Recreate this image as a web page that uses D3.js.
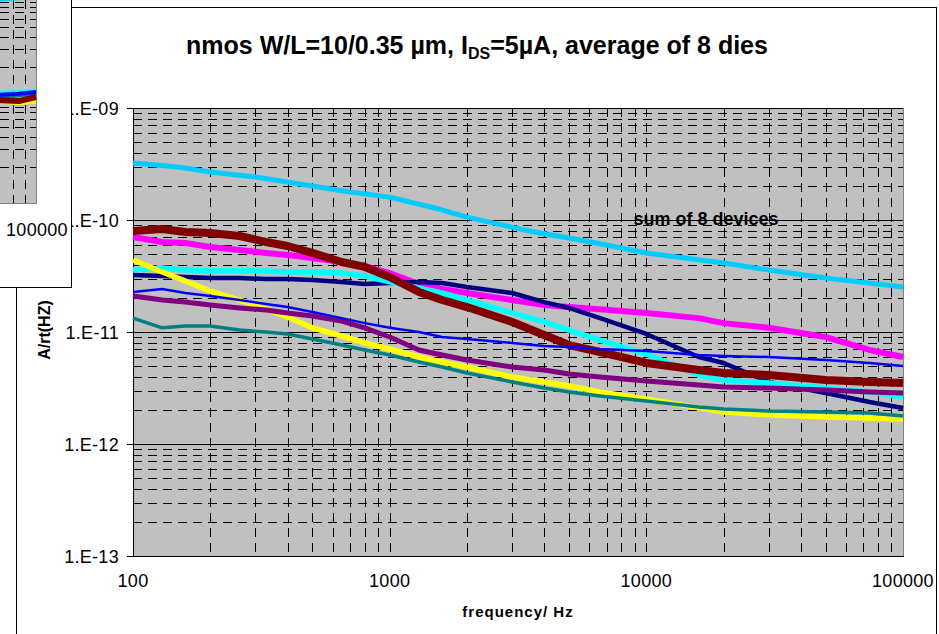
<!DOCTYPE html>
<html>
<head>
<meta charset="utf-8">
<script src="https://cdn.jsdelivr.net/npm/d3@7"></script>
<style>
body { margin: 0; background: #fff; }
svg { display: block; font-family: "Liberation Sans", Arial, sans-serif; }
</style>
</head>
<body>
<div id="chart"></div>
<script>
var width = 939,
    height = 634;

// readings, A/rt(Hz) vs Hz
var freqs = [100, 130, 160, 200, 260, 330, 400, 500, 650, 800, 1000, 1300, 1600, 2000,
    3000, 4000, 5000, 6600, 10000, 16000, 20000, 30000, 50000, 74000, 100000];

var darkRed = [7.98e-11, 8.31e-11, 7.81e-11, 7.65e-11, 7.20e-11, 6.36e-11, 5.86e-11, 5.08e-11,
    4.22e-11, 3.81e-11, 3.10e-11, 2.28e-11, 1.93e-11, 1.67e-11, 1.23e-11, 9.40e-12, 7.65e-12,
    6.63e-12, 5.29e-12, 4.58e-12, 4.31e-12, 4.13e-12, 3.73e-12, 3.58e-12, 3.50e-12];
var magenta = [7.05e-11, 6.36e-11, 6.23e-11, 5.74e-11, 5.40e-11, 5.08e-11, 4.87e-11, 4.58e-11,
    4.22e-11, 3.88e-11, 3.36e-11, 2.68e-11, 2.42e-11, 2.23e-11, 1.93e-11, 1.74e-11, 1.67e-11,
    1.60e-11, 1.48e-11, 1.33e-11, 1.20e-11, 1.09e-11, 9.02e-12, 6.91e-12, 5.98e-12];
var cyan = [3.58e-11, 3.73e-11, 3.58e-11, 3.50e-11, 3.50e-11, 3.50e-11, 3.43e-11, 3.43e-11,
    3.36e-11, 3.16e-11, 2.80e-11, 2.47e-11, 2.23e-11, 1.93e-11, 1.48e-11, 1.23e-11, 1.04e-11,
    8.48e-12, 6.36e-12, 4.13e-12, 3.73e-12, 3.50e-12, 3.16e-12, 2.91e-12, 2.63e-12];
var navy = [3.23e-11, 3.16e-11, 3.10e-11, 3.03e-11, 3.03e-11, 2.97e-11, 2.97e-11, 2.91e-11,
    2.80e-11, 2.68e-11, 2.74e-11, 2.80e-11, 2.74e-11, 2.52e-11, 2.23e-11, 1.85e-11, 1.64e-11,
    1.33e-11, 9.60e-12, 5.98e-12, 5.29e-12, 3.58e-12, 2.85e-12, 2.37e-12, 2.10e-12];
var yellow = [4.39e-11, 3.43e-11, 2.85e-11, 2.32e-11, 1.93e-11, 1.60e-11, 1.36e-11, 1.09e-11,
    9.21e-12, 7.98e-12, 7.05e-12, 5.98e-12, 5.40e-12, 4.87e-12, 3.96e-12, 3.58e-12, 3.30e-12,
    2.91e-12, 2.52e-12, 2.10e-12, 1.93e-12, 1.82e-12, 1.74e-12, 1.71e-12, 1.67e-12];
var teal = [1.33e-11, 1.09e-11, 1.13e-11, 1.13e-11, 1.04e-11, 1.00e-11, 9.60e-12, 8.66e-12,
    7.65e-12, 6.91e-12, 6.23e-12, 5.40e-12, 4.87e-12, 4.31e-12, 3.58e-12, 3.16e-12, 2.91e-12,
    2.68e-12, 2.42e-12, 2.14e-12, 2.05e-12, 1.97e-12, 1.93e-12, 1.89e-12, 1.78e-12];
var blue = [2.28e-11, 2.42e-11, 2.23e-11, 2.10e-11, 1.93e-11, 1.78e-11, 1.67e-11, 1.51e-11,
    1.33e-11, 1.20e-11, 1.09e-11, 1.00e-11, 9.02e-12, 8.66e-12, 7.98e-12, 7.50e-12, 7.35e-12,
    7.05e-12, 6.77e-12, 6.23e-12, 6.11e-12, 5.98e-12, 5.62e-12, 5.29e-12, 4.97e-12];
var purple = [2.10e-11, 1.93e-11, 1.85e-11, 1.74e-11, 1.64e-11, 1.57e-11, 1.48e-11, 1.39e-11,
    1.25e-11, 1.09e-11, 9.02e-12, 6.91e-12, 6.23e-12, 5.62e-12, 4.87e-12, 4.58e-12, 4.22e-12,
    3.96e-12, 3.65e-12, 3.36e-12, 3.23e-12, 3.16e-12, 3.03e-12, 2.91e-12, 2.85e-12];

var sumFreqs = [100, 150, 200, 300, 500, 700, 1000, 1500, 2000, 3500, 5000, 7000, 10000,
    20000, 30000, 50000, 100000];
var sumValues = [3.23e-10, 2.97e-10, 2.68e-10, 2.42e-10, 2.01e-10, 1.78e-10, 1.60e-10,
    1.28e-10, 1.06e-10, 7.98e-11, 6.91e-11, 5.98e-11, 5.08e-11, 4.13e-11, 3.58e-11,
    3.03e-11, 2.52e-11];

var yTicks = [1e-9, 1e-10, 1e-11, 1e-12, 1e-13];
var yTickLabels = ["1.E-09", "1.E-10", "1.E-11", "1.E-12", "1.E-13"];
var xTicks = [100, 1000, 10000, 100000];
var xTickLabels = ["100", "1000", "10000", "100000"];

// the neighbouring chart that overlaps the top-left corner
var insetFreqs = [70000, 85000, 100000];
var insetBlue = [1.05e-11, 1.08e-11, 1.12e-11];
var insetDarkRed = [9.3e-12, 9.1e-12, 1.0e-11];
var insetYellow = [8.9e-12, 8.7e-12, 9.0e-12];
var insetCyan = [1.1e-11, 1.12e-11, 1.15e-11];
var insetTeal = [1.0e-11, 1.03e-11, 1.08e-11];
var insetSum = [9.4e-11, 9.7e-11, 1.0e-10];

var series = [
    {values: magenta, color: "#ff00ff", w: 6},
    {values: navy, color: "#000080", w: 4.5},
    {values: cyan, color: "#00ffff", w: 5.5},
    {values: darkRed, color: "#800000", w: 8},
    {values: yellow, color: "#ffff00", w: 5.5},
    {values: purple, color: "#800080", w: 5},
    {values: teal, color: "#008080", w: 3.5},
    {values: blue, color: "#0000ff", w: 2.5}
];

var x = d3.scaleLog()
    .domain([100, 100000])
    .range([133, 903]);

var y = d3.scaleLog()
    .domain([1e-13, 1e-9])
    .range([556, 108]);

var svg = d3.select("#chart").append("svg")
    .attr("width", width)
    .attr("height", height);

// outer frame of the main chart
svg.append("rect")
    .attr("x", 16.5)
    .attr("y", 7.5)
    .attr("width", 920)
    .attr("height", 700)
    .attr("fill", "#fff")
    .attr("stroke", "#000");

svg.append("rect")
    .attr("x", 133)
    .attr("y", 108)
    .attr("width", 770)
    .attr("height", 448)
    .attr("fill", "#c0c0c0");

var minorY = [], majorY = [1e-12, 1e-11, 1e-10, 1e-9];
[1e-13, 1e-12, 1e-11, 1e-10].forEach(function(dec) {
    for (var m = 2; m <= 9; m++) minorY.push(m * dec);
});
var minorX = [];
[100, 1000, 10000].forEach(function(dec) {
    for (var m = 1; m <= 9; m++) {
        if (dec * m > 100) minorX.push(m * dec);
    }
});

var grid = svg.append("g")
    .attr("shape-rendering", "crispEdges");

grid.selectAll(".hminor")
    .data(minorY)
    .enter().append("line")
    .attr("class", "hminor")
    .attr("x1", 133)
    .attr("x2", 903)
    .attr("y1", function(d) { return Math.round(y(d)) + 0.5; })
    .attr("y2", function(d) { return Math.round(y(d)) + 0.5; })
    .attr("stroke", "#000")
    .attr("stroke-dasharray", "9,6");

grid.selectAll(".vminor")
    .data(minorX)
    .enter().append("line")
    .attr("class", "vminor")
    .attr("y1", 108)
    .attr("y2", 556)
    .attr("x1", function(d) { return Math.round(x(d)) + 0.5; })
    .attr("x2", function(d) { return Math.round(x(d)) + 0.5; })
    .attr("stroke", "#000")
    .attr("stroke-dasharray", "9,6");

grid.selectAll(".hmajor")
    .data(majorY)
    .enter().append("line")
    .attr("class", "hmajor")
    .attr("x1", 133)
    .attr("x2", 903)
    .attr("y1", function(d) { return Math.round(y(d)) + 0.5; })
    .attr("y2", function(d) { return Math.round(y(d)) + 0.5; })
    .attr("stroke", "#000");

grid.append("line")
    .attr("x1", 903.5).attr("x2", 903.5)
    .attr("y1", 108).attr("y2", 556)
    .attr("stroke", "#808080");

// axes
grid.append("line")
    .attr("x1", 133.5).attr("x2", 133.5)
    .attr("y1", 108).attr("y2", 557)
    .attr("stroke", "#000");
grid.append("line")
    .attr("x1", 133).attr("x2", 904)
    .attr("y1", 556.5).attr("y2", 556.5)
    .attr("stroke", "#000");

grid.selectAll(".ytick")
    .data(yTicks)
    .enter().append("line")
    .attr("class", "ytick")
    .attr("x1", 127)
    .attr("x2", 133)
    .attr("y1", function(d) { return Math.round(y(d)) + 0.5; })
    .attr("y2", function(d) { return Math.round(y(d)) + 0.5; })
    .attr("stroke", "#000");

svg.selectAll(".ylab")
    .data(yTicks)
    .enter().append("text")
    .attr("class", "ylab")
    .attr("x", 119)
    .attr("y", function(d) { return y(d) + 6.5; })
    .attr("text-anchor", "end")
    .style("font-size", "18px")
    .style("letter-spacing", "0.3px")
    .text(function(d, i) { return yTickLabels[i]; });

svg.selectAll(".xlab")
    .data(xTicks)
    .enter().append("text")
    .attr("class", "xlab")
    .attr("x", function(d) { return x(d); })
    .attr("y", 587)
    .attr("text-anchor", "middle")
    .style("font-size", "18px")
    .style("letter-spacing", "0.3px")
    .text(function(d, i) { return xTickLabels[i]; });

var line = d3.line()
    .x(function(d) { return x(d[0]); })
    .y(function(d) { return y(d[1]); });

svg.selectAll(".device")
    .data(series)
    .enter().append("path")
    .attr("class", "device")
    .attr("d", function(s) {
        return line(freqs.map(function(f, i) { return [f, s.values[i]]; }));
    })
    .attr("fill", "none")
    .attr("stroke", function(s) { return s.color; })
    .attr("stroke-width", function(s) { return s.w; })
    .attr("stroke-linejoin", "round");

svg.append("path")
    .attr("d", line(sumFreqs.map(function(f, i) { return [f, sumValues[i]]; })))
    .attr("fill", "none")
    .attr("stroke", "#00ccff")
    .attr("stroke-width", 5)
    .attr("stroke-linejoin", "round");

svg.append("text")
    .attr("x", 706)
    .attr("y", 225)
    .attr("text-anchor", "middle")
    .style("font-size", "18px")
    .style("font-weight", "bold")
    .text("sum of 8 devices");

var title = svg.append("text")
    .attr("x", 477)
    .attr("y", 54)
    .attr("text-anchor", "middle")
    .style("font-size", "25px")
    .style("font-weight", "bold");
title.append("tspan").text("nmos W/L=10/0.35 µm, I");
title.append("tspan").attr("dy", 5).style("font-size", "16px").text("DS");
title.append("tspan").attr("dy", -5).text("=5µA, average of 8 dies");

svg.append("text")
    .attr("x", 518)
    .attr("y", 617)
    .attr("text-anchor", "middle")
    .style("font-size", "15px")
    .style("font-weight", "bold")
    .style("letter-spacing", "1px")
    .text("frequency/ Hz");

svg.append("text")
    .attr("transform", "translate(50,330) rotate(-90)")
    .attr("text-anchor", "middle")
    .style("font-size", "16px")
    .style("font-weight", "bold")
    .text("A/rt(HZ)");

// inset: corner of the neighbouring chart
var ix = d3.scaleLog()
    .domain([10000, 100000])
    .range([-204, 36]);
var iy = d3.scaleLog()
    .domain([1e-12, 1e-10])
    .range([197, -3]);

var inset = svg.append("g");

inset.append("rect")
    .attr("x", -1).attr("y", -1)
    .attr("width", 72.5).attr("height", 288.5)
    .attr("fill", "#fff")
    .attr("stroke", "#000");

inset.append("rect")
    .attr("x", -1).attr("y", -1)
    .attr("width", 37.5).attr("height", 204.5)
    .attr("fill", "#c0c0c0")
    .attr("stroke", "#808080");

var insetMinor = [];
[1e-12, 1e-11].forEach(function(dec) {
    for (var m = 2; m <= 9; m++) insetMinor.push(m * dec);
});

inset.selectAll(".ih")
    .data(insetMinor)
    .enter().append("line")
    .attr("x1", 0).attr("x2", 36)
    .attr("y1", function(d) { return Math.round(iy(d)) + 0.5; })
    .attr("y2", function(d) { return Math.round(iy(d)) + 0.5; })
    .attr("stroke", "#000")
    .attr("stroke-dasharray", "9,6")
    .attr("shape-rendering", "crispEdges");

inset.selectAll(".iv")
    .data([80000, 90000])
    .enter().append("line")
    .attr("y1", 0).attr("y2", 203)
    .attr("x1", function(d) { return Math.round(ix(d)) + 0.5; })
    .attr("x2", function(d) { return Math.round(ix(d)) + 0.5; })
    .attr("stroke", "#000")
    .attr("stroke-dasharray", "9,6")
    .attr("shape-rendering", "crispEdges");

var iline = d3.line()
    .x(function(d) { return ix(d[0]); })
    .y(function(d) { return iy(d[1]); });

var insetSeries = [
    {values: insetYellow, color: "#ffff00", w: 4},
    {values: insetCyan, color: "#00ffff", w: 4},
    {values: insetTeal, color: "#008080", w: 3},
    {values: insetDarkRed, color: "#800000", w: 6},
    {values: insetBlue, color: "#0000ff", w: 4},
    {values: insetSum, color: "#00ccff", w: 4}
];

inset.selectAll(".iseries")
    .data(insetSeries)
    .enter().append("path")
    .attr("d", function(s) {
        return iline(insetFreqs.map(function(f, i) { return [f, s.values[i]]; }));
    })
    .attr("fill", "none")
    .attr("stroke", function(s) { return s.color; })
    .attr("stroke-width", function(s) { return s.w; });

inset.append("text")
    .attr("x", 37)
    .attr("y", 236)
    .attr("text-anchor", "middle")
    .style("font-size", "18px")
    .style("letter-spacing", "0.3px")
    .text("100000");
</script>
</body>
</html>
